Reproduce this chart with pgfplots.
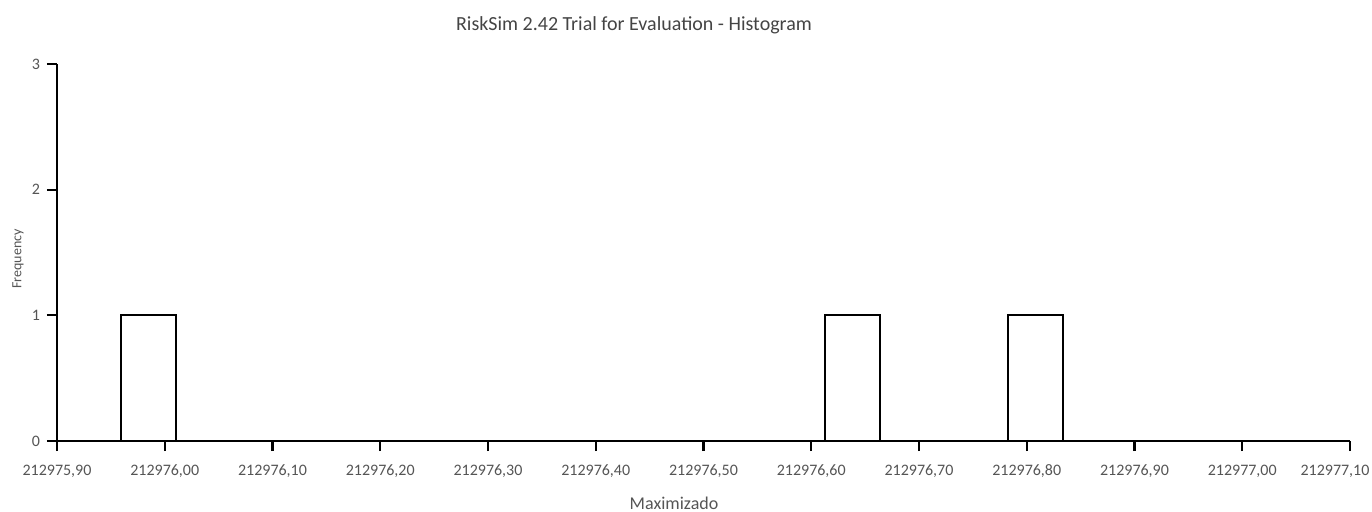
\documentclass[border=0pt]{standalone}
\usepackage{pgfplots}
\pgfplotsset{compat=1.18}
\usepackage{fontspec}
\setmainfont{Carlito}
\definecolor{labelgray}{HTML}{555555}
\definecolor{titlegray}{HTML}{444444}
\begin{document}
\begin{tikzpicture}[x=0.5pt,y=0.5pt]
\useasboundingbox (0,0) rectangle (1372,511);
\begin{axis}[
  at={(28.5pt,35pt)}, anchor=south west,
  scale only axis, width=646.5pt, height=188.5pt,
  xmin=0.90, xmax=2.10, ymin=0, ymax=3,
  axis lines=left,
  axis line style={-, line width=1.1pt, black},
  xtick={0.90,1.00,1.10,1.20,1.30,1.40,1.50,1.60,1.70,1.80,1.90,2.00},
  xticklabels={212975{,}90,212976{,}00,212976{,}10,212976{,}20,212976{,}30,212976{,}40,212976{,}50,212976{,}60,212976{,}70,212976{,}80,212976{,}90,212977{,}00},
  extra x ticks={2.10},
  extra x tick labels={212977{,}10},
  extra x tick style={xticklabel style={xshift=-7.5pt}},
  ytick={0,1,2,3},
  tick style={black, line width=1.1pt},
  major tick length=5pt,
  tick align=outside,
  ticklabel style={font=\fontsize{8}{9}\selectfont, text=labelgray},
  xticklabel style={yshift=-1.5pt, text height=1.5ex, text depth=0.3ex},
  /pgf/number format/assume math mode=true,
  clip=false,
]
% x values are offsets from 212975
\addplot[ybar interval, draw=black, fill=white, line width=1pt]
  coordinates {(0.9594,1) (1.0104,0) (1.6128,1) (1.6638,0) (1.7826,1) (1.8336,0)};
\end{axis}
\node[font=\fontsize{10}{12}\selectfont, text=titlegray] at (634,486) {RiskSim 2.42 Trial for Evaluation - Histogram};
\node[font=\fontsize{9}{11}\selectfont, text=labelgray] at (674,8) {Maximizado};
\node[font=\fontsize{7}{8}\selectfont, text=labelgray, rotate=90] at (18,252) {Frequency};
\end{tikzpicture}
\end{document}
